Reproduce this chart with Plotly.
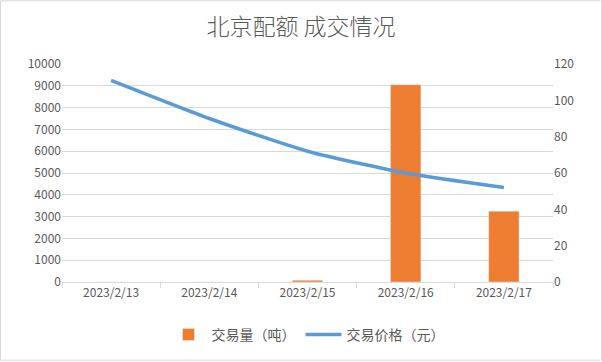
import plotly.graph_objects as go

dates = ["2023/2/13", "2023/2/14", "2023/2/15", "2023/2/16", "2023/2/17"]
volume = [0, 0, 80, 9050, 3250]
price = [111, 90, 72, 60, 52]

W, H = 602, 362
L, R, T, B = 62, 49, 64, 79
pw, ph = W - L - R, H - T - B

font = "Noto Sans CJK SC, DejaVu Sans, sans-serif"
grey = "#595959"

fig = go.Figure()
fig.add_trace(go.Bar(x=dates, y=volume, name="交易量（吨）", marker_color="#ED7D31", yaxis="y"))
fig.add_trace(go.Scatter(x=dates, y=price, name="交易价格（元）", mode="lines",
                         line=dict(color="#5B9BD5", width=3.5, shape="spline", smoothing=0.6), yaxis="y2"))

fig.update_layout(
    width=W, height=H,
    margin=dict(l=L, r=R, t=T, b=B),
    paper_bgcolor="white", plot_bgcolor="white",
    font=dict(family=font, size=12, color=grey),
    title=dict(text="北京配额 成交情况", x=0.5, xanchor="center", y=1 - 27 / H, yanchor="middle",
               font=dict(size=23, color=grey, family=font, weight=300)),
    bargap=0.69,
    xaxis=dict(type="category", showline=True, linecolor="#D9D9D9", linewidth=1,
               ticks="outside", tickson="boundaries", ticklen=5, tickcolor="#D9D9D9",
               showgrid=False, tickfont=dict(size=12, color=grey)),
    yaxis=dict(range=[0, 10000], dtick=1000, tickformat="d", showgrid=True, gridcolor="#D9D9D9",
               gridwidth=1, zeroline=False, showline=False, ticks="", tickfont=dict(size=12, color=grey)),
    yaxis2=dict(range=[0, 120], dtick=20, tickformat="d", overlaying="y", side="right", showgrid=False,
                zeroline=False, showline=False, ticks="", tickfont=dict(size=12, color=grey)),
    legend=dict(orientation="h", x=0.5, xanchor="center", y=-(335 - 283) / ph, yanchor="middle",
                font=dict(size=14, color=grey), itemwidth=36),
    shapes=[dict(type="rect", xref="paper", yref="paper",
                 x0=(-L + 0.5) / pw, x1=(W - L - 0.5) / pw,
                 y0=(-B + 0.5) / ph, y1=(H - B - 0.5) / ph,
                 line=dict(color="#D9D9D9", width=1), layer="below")],
)
fig.write_html("out.html", config={"displayModeBar": False},
               post_script="document.body.style.margin='0';document.body.style.overflow='hidden';")
